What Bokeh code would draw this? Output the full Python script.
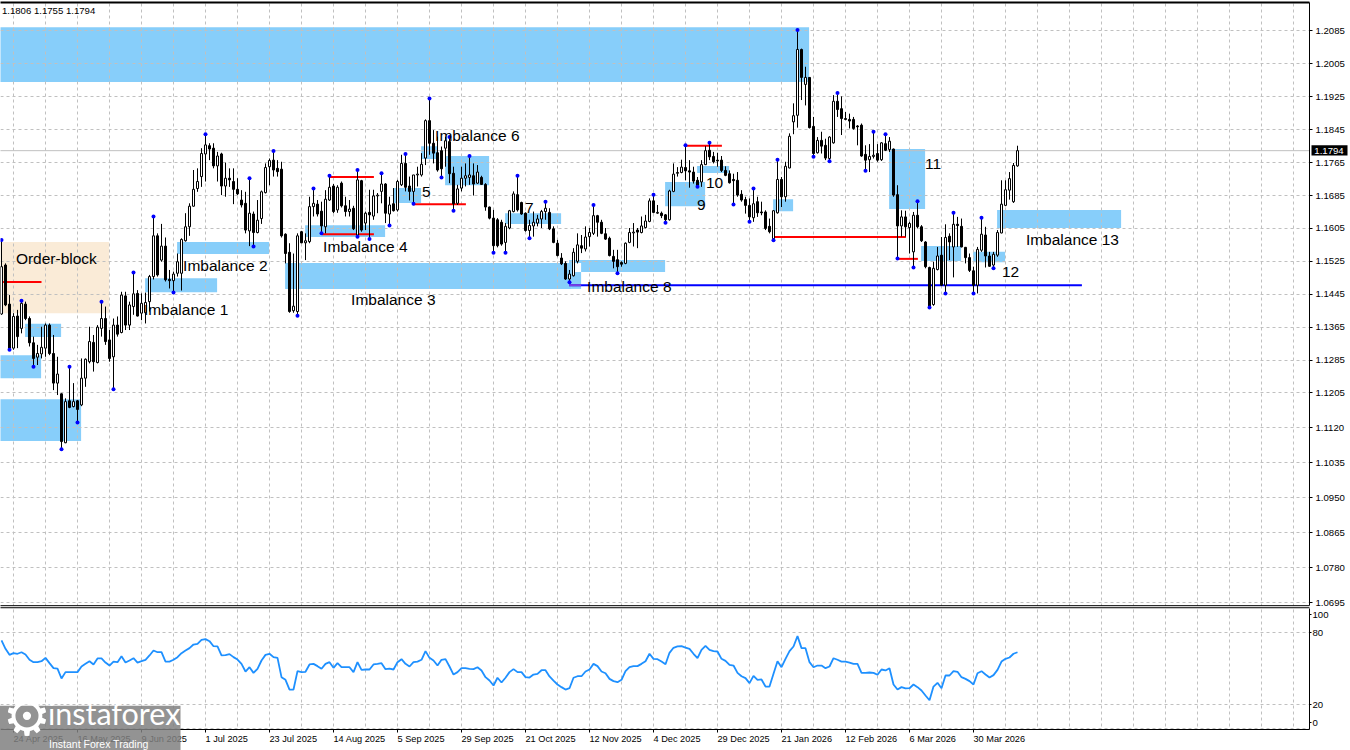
import numpy as np
from bokeh.core.properties import value
from bokeh.plotting import figure
from bokeh.models import (FixedTicker, LinearAxis, Grid, NumeralTickFormatter, Range1d)
from bokeh.embed import file_html
from bokeh.resources import INLINE

# prices are written in 1/10000 units
opens = [11397,11516,11421,11314,11392,11362,11421,11386,11327,11292,
11300,11314,11370,11301,11229,11203,11084,11186,11172,11186,
11176,11241,11281,11328,11279,11362,11386,11334,11293,11370,
11352,11441,11370,11415,11447,11399,11400,11427,11488,11587,
11528,11562,11481,11478,11496,11496,11575,11609,11659,11702,
11731,11786,11806,11800,11757,11786,11708,11727,11719,11700,
11674,11666,11599,11640,11595,11629,11692,11755,11771,11751,
11749,11591,11547,11405,11403,11597,11570,11573,11658,11664,
11647,11609,11674,11708,11650,11715,11660,11646,11654,11589,
11721,11618,11644,11635,11684,11695,11713,11640,11665,11650,
11711,11763,11708,11695,11735,11735,11776,11867,11812,11789,
11794,11800,11816,11739,11666,11703,11727,11729,11733,11715,
11729,11712,11657,11630,11626,11620,11571,11606,11646,11687,
11668,11642,11600,11611,11618,11628,11646,11644,11604,11569,
11533,11520,11482,11490,11525,11563,11555,11585,11593,11636,
11620,11592,11581,11537,11529,11522,11520,11571,11594,11601,
11595,11607,11622,11672,11642,11642,11638,11626,11695,11739,
11741,11753,11745,11742,11722,11718,11760,11795,11780,11771,
11771,11746,11738,11724,11722,11688,11675,11661,11631,11670,
11645,11645,11610,11580,11643,11724,11682,11752,11864,11880,
12040,11955,11972,11853,11789,11819,11807,11775,11813,11914,
11896,11872,11870,11870,11854,11856,11785,11772,11780,11787,
11772,11811,11797,11798,11687,11611,11633,11607,11548,11637,
11609,11572,11510,11420,11505,11540,11467,11586,11560,11615,
11610,11559,11534,11502,11467,11552,11589,11538,11516,11540,
11594,11661,11698,11670,11757]
highs = [11577,11520,11443,11399,11407,11429,11427,11391,11342,11322,
11366,11374,11374,11346,11293,11204,11192,11269,11229,11188,
11289,11289,11366,11346,11370,11427,11415,11358,11386,11391,
11451,11451,11427,11498,11455,11447,11449,11492,11634,11593,
11616,11583,11504,11500,11544,11581,11642,11666,11747,11751,
11800,11834,11812,11812,11791,11789,11765,11751,11751,11727,
11698,11694,11727,11646,11674,11697,11763,11775,11793,11771,
11767,11593,11569,11544,11593,11599,11593,11682,11702,11674,
11670,11698,11733,11713,11710,11719,11682,11674,11660,11747,
11723,11646,11699,11699,11691,11739,11715,11682,11703,11723,
11784,11786,11731,11735,11755,11788,11870,11921,11844,11828,
11804,11828,11827,11755,11711,11755,11763,11781,11763,11759,
11733,11715,11658,11650,11630,11626,11618,11650,11695,11733,
11670,11644,11626,11646,11638,11650,11670,11654,11610,11577,
11545,11525,11504,11557,11593,11589,11610,11606,11662,11638,
11626,11606,11585,11553,11553,11525,11571,11606,11618,11606,
11634,11638,11678,11687,11662,11646,11640,11699,11763,11754,
11772,11807,11771,11755,11730,11771,11805,11813,11791,11789,
11781,11756,11746,11738,11742,11698,11682,11678,11702,11682,
11670,11649,11629,11649,11772,11730,11767,11836,11909,12087,
12042,11998,11973,11876,11827,11840,11823,11829,11929,11934,
11926,11888,11884,11876,11856,11860,11807,11810,11840,11810,
11815,11834,11827,11799,11710,11649,11648,11621,11645,11671,
11613,11574,11512,11524,11560,11584,11615,11593,11643,11633,
11629,11560,11544,11512,11560,11631,11609,11548,11548,11601,
11722,11722,11742,11764,11806]
lows = [11395,11416,11310,11310,11314,11350,11382,11318,11269,11273,
11289,11293,11297,11212,11200,11068,11083,11168,11170,11133,
11173,11220,11277,11257,11277,11342,11322,11281,11214,11342,
11350,11358,11358,11395,11391,11382,11374,11403,11481,11488,
11524,11476,11459,11449,11488,11454,11573,11587,11658,11694,
11706,11719,11771,11751,11719,11686,11682,11706,11664,11686,
11656,11593,11562,11561,11593,11616,11690,11710,11731,11731,
11583,11520,11400,11400,11393,11569,11528,11569,11634,11634,
11593,11593,11672,11642,11643,11656,11634,11634,11601,11585,
11597,11601,11579,11626,11642,11666,11618,11612,11646,11646,
11708,11695,11673,11665,11707,11731,11759,11784,11763,11743,
11729,11755,11715,11648,11662,11695,11707,11711,11685,11713,
11711,11648,11627,11546,11559,11563,11546,11603,11644,11646,
11638,11597,11581,11585,11610,11606,11626,11601,11569,11537,
11516,11480,11474,11488,11520,11545,11549,11561,11589,11585,
11591,11577,11537,11508,11496,11512,11518,11569,11561,11557,
11593,11605,11620,11642,11640,11630,11619,11624,11693,11731,
11739,11722,11704,11714,11706,11706,11759,11771,11763,11755,
11742,11732,11714,11663,11682,11670,11641,11621,11621,11633,
11637,11601,11593,11576,11641,11657,11670,11751,11834,11850,
11917,11904,11848,11779,11787,11787,11771,11768,11811,11876,
11832,11868,11848,11845,11807,11779,11745,11742,11775,11767,
11769,11793,11791,11682,11532,11585,11585,11544,11510,11605,
11572,11508,11413,11417,11503,11465,11447,11528,11486,11560,
11559,11520,11499,11447,11447,11548,11510,11512,11508,11536,
11593,11659,11675,11667,11755]
closes = [11512,11419,11314,11391,11342,11423,11386,11327,11289,11301,
11316,11370,11301,11229,11251,11087,11184,11170,11184,11165,
11241,11287,11330,11281,11365,11386,11330,11289,11370,11348,
11443,11370,11419,11446,11392,11423,11425,11488,11587,11492,
11562,11480,11478,11494,11524,11578,11609,11659,11700,11719,
11787,11808,11798,11757,11781,11708,11727,11723,11700,11689,
11662,11601,11642,11595,11625,11694,11753,11770,11747,11743,
11587,11544,11403,11416,11587,11570,11575,11658,11666,11640,
11611,11676,11705,11646,11705,11660,11646,11652,11604,11723,
11601,11642,11638,11684,11686,11713,11642,11662,11648,11719,
11763,11705,11695,11735,11737,11761,11867,11812,11788,11747,
11750,11818,11738,11665,11701,11727,11733,11735,11713,11742,
11712,11657,11630,11563,11563,11567,11610,11648,11689,11650,
11640,11600,11612,11620,11628,11646,11654,11604,11571,11539,
11519,11482,11494,11547,11565,11557,11584,11595,11636,11620,
11593,11579,11539,11525,11512,11518,11569,11595,11596,11596,
11611,11623,11672,11644,11644,11636,11626,11696,11737,11741,
11754,11745,11742,11720,11708,11760,11794,11779,11767,11769,
11746,11734,11716,11721,11686,11674,11661,11633,11665,11643,
11643,11605,11597,11648,11724,11682,11756,11829,11879,12040,
11972,11972,11850,11787,11819,11805,11776,11827,11914,11894,
11872,11870,11866,11848,11852,11781,11771,11780,11783,11771,
11813,11795,11817,11686,11611,11633,11609,11617,11637,11609,
11575,11512,11414,11508,11538,11467,11583,11572,11615,11612,
11560,11534,11503,11467,11554,11591,11538,11513,11542,11595,
11664,11699,11726,11758,11794]
fractal_up = [0,5,17,25,33,38,51,62,68,78,82,89,95,101,107,112,117,129,136,148,163,171,177,188,194,199,209,218,221,229,238,245]
fractal_down = [2,8,15,19,28,43,63,74,80,89,92,97,103,110,113,123,126,132,142,154,166,174,183,187,193,203,207,216,224,228,232,236,243,248]

rsi = [73.6,66.6,61.6,63,62.5,63.8,61.9,57.5,55.5,55.5,
56.3,59.1,54.7,50.5,50.2,41.9,47.2,47.2,47.2,47.2,
51.9,54.1,56.3,53.6,58.6,58.6,55.2,52.7,56,55.5,
60.5,55.2,56.9,58.8,55.2,56.3,57.5,61.1,65.2,63.8,
63.8,56,56,57.5,59.7,63,65.2,67.2,70.2,70.8,
74.1,74.7,73,68.8,68.6,61.1,61.3,62.2,59.7,57.7,
54.1,47.7,51.3,46.6,50,56.9,61.6,62.5,59.7,59.1,
43,40.8,32.7,32.7,48,47.2,47.5,53.6,54.1,52.2,
50,54.1,55.5,50.8,54.7,51.3,51.3,51.3,47.2,55.5,
49.1,49.4,49.4,53.6,54.1,54.7,49.7,50.2,49.4,55.5,
58,54.1,51.9,55.5,56,57.5,64.7,59.1,56.9,52.7,
57.5,58,51.9,45.2,47.2,50.5,50.5,50,49.7,51.3,
48.6,43,40.2,36.1,42.5,38.6,42.5,47.2,49.7,47.2,
47.2,43,42.7,45.2,45.8,48.8,48.8,43.6,40.2,36.9,
34.7,32.7,33.8,42.5,43.8,43.8,47.7,49.4,54.1,52.2,
47.7,46.3,41.6,39.7,38.8,40.8,48,51.3,52.2,52.2,
54.1,56.3,62.5,58.3,58,56,53.8,63.3,67.5,68.6,
68.8,67.7,66.6,62.5,58.8,65.8,69.1,65.8,64.7,64.4,
58.3,56.6,53.3,52.7,46.6,43.8,42.2,38,44.1,40.8,
41.1,35.2,35.2,45.8,56.3,51.3,58.3,64.7,68.6,77.2,
67.2,67.2,55.5,51.3,52.7,52.7,50.5,51.9,58.8,57.5,
56,56,55.2,54.1,54.1,46.6,46.6,46.9,46.6,45,
49.4,48.6,50.5,36.9,32.7,34.7,33.6,33.8,36.9,34.7,
31.9,27.7,23.8,35.2,38.3,33.8,44.4,44.4,48,47.5,
43,41.6,39.7,36.9,46.3,48,45.2,42.7,44.7,49.1,
56,58.3,59.4,62.5,63.8]

# imbalance zones: bar position and price (1/10000)
zone_left   = [-1,-1,-1,5.9,35.9,43.9,75.9,70.9,142.6,141.9,144.9,97.9,104.9,110.9,125.9,165.9,173.9,192.9,221.9,229.9,242.9,248.9]
zone_right  = [201.9,9.9,19.9,14.9,53.9,66.9,95.9,142.6,144.9,165.9,165.9,104.9,108.9,121.9,139.9,175.9,181.9,197.9,230.9,239.9,250.9,279.9]
zone_top    = [12094,11297,11190,11373,11484,11572,11613,11521,11499,11528,11521,11703,11805,11781,11642,11718,11757,11676,11798,11562,11548,11650]
zone_bottom = [11961,11241,11088,11341,11450,11543,11584,11458,11458,11521,11499,11667,11774,11710,11616,11659,11740,11647,11652,11526,11523,11606]
block_left, block_right, block_top, block_bottom = [-1], [26.9], [11572], [11399]

red_start = [0.4,80.1,81.9,102.9,170.9,192.9,223.9]
red_end   = [10,93.1,93.1,116.1,180.1,226.1,229.1]
red_price = [11475,11591,11730,11664,11806,11584,11531]
support_start, support_end, support_price = [141.9], [270.1], [11467]
overlap_start, overlap_end = [141.9], [144.9]

label_text = ["Order-block","Imbalance 1","Imbalance 2","Imbalance 3","Imbalance 4","5","Imbalance 6","7",
              "Imbalance 8","9","10","11","12","Imbalance 13"]
label_x = [3.6,35.6,45.4,87.4,80.4,105.1,108.4,130.9,146.4,173.9,176.1,230.9,250.1,256.1]
label_y = [11531,11407,11516,11433,11562,11693,11830,11655,11465,11662,11715,11761,11499,11577]

price_ticks = [1.2085,1.2005,1.1925,1.1845,1.1765,1.1685,1.1605,1.1525,1.1445,1.1365,1.1285,1.1205,
               1.1120,1.1035,1.0950,1.0865,1.0780,1.0695]
date_ticks = [3,19,35,51,67,83,99,115,131,147,163,179,195,211,227,243]
date_labels = ["24 Apr 2025","16 May 2025","9 Jun 2025","1 Jul 2025","23 Jul 2025","14 Aug 2025","5 Sep 2025",
               "29 Sep 2025","21 Oct 2025","12 Nov 2025","4 Dec 2025","29 Dec 2025","21 Jan 2026","12 Feb 2026",
               "6 Mar 2026","30 Mar 2026"]
grid_x = list(range(3, 326, 8))
last_price = 1.1794
header = "1.1806 1.1755 1.1794"

o, h, l, c = [np.array(a) / 10000 for a in (opens, highs, lows, closes)]
idx = np.arange(len(o))
up = c >= o
FONT = value("Liberation Sans")
GRID = "#C0C0C0"
SMALL = "9.6px"
AX_X = 327.0      # right axis position, in bars
X0, X1 = -0.25, 337.25
Y_TOP, Y_BOT = 1.2159, 1.0336
Y_AX = 1.0387     # bottom axis of the oscillator pane
Y_GAP_A, Y_GAP_B = 1.0688, 1.0683
Y_BORDER = 1.2154

p = figure(width=1350, height=750, output_backend="svg", toolbar_location=None,
           x_range=Range1d(X0, X1), y_range=Range1d(Y_BOT, Y_TOP),
           x_axis_location=None, y_axis_location=None,
           min_border_left=0, min_border_right=0, min_border_top=0, min_border_bottom=0,
           outline_line_color=None, background_fill_color="white")
p.extra_y_ranges = {"rsi": Range1d(-18.1, 606.9)}

p.xgrid.ticker = FixedTicker(ticks=grid_x)
p.ygrid.ticker = FixedTicker(ticks=price_ticks)
rgrid = Grid(dimension=1, ticker=FixedTicker(ticks=[80, 20, 0]), y_range_name="rsi")
p.add_layout(rgrid, "center")
for g in (p.xgrid[0], p.ygrid[0], rgrid):
    g.grid_line_color = GRID
    g.grid_line_dash = [3, 3]
    g.grid_line_width = 1

p.quad(left=block_left, right=block_right, top=np.array(block_top)/10000, bottom=np.array(block_bottom)/10000,
       fill_color="#FAEBD7", line_color=None, level="image")
p.quad(left=zone_left, right=zone_right, top=np.array(zone_top)/10000, bottom=np.array(zone_bottom)/10000,
       fill_color="#87CEFA", line_color=None, level="image")

# white margins around the two panes
p.quad(left=[AX_X, X0-1, X0-1, X0-1], right=[X1+1, X1+1, X1+1, X1+1],
       top=[Y_TOP+.01, Y_AX, Y_TOP+.01, Y_GAP_A], bottom=[Y_BOT-.01, Y_BOT-.01, Y_BORDER, Y_GAP_B],
       fill_color="white", line_color=None)

# price line and pane borders
p.segment(x0=[X0-1], x1=[AX_X], y0=[last_price], y1=[last_price], line_color="#C0C0C0", line_width=1)
p.segment(x0=[X0-1], x1=[AX_X], y0=[Y_BORDER], y1=[Y_BORDER], line_color="black", line_width=2)
p.segment(x0=[X0-1, X0-1], x1=[AX_X, AX_X], y0=[Y_GAP_A, Y_GAP_B], y1=[Y_GAP_A, Y_GAP_B], line_color="black", line_width=1)

p.segment(x0=red_start, x1=red_end, y0=np.array(red_price)/10000, y1=np.array(red_price)/10000,
          line_color="#FF0000", line_width=2)
p.segment(x0=support_start, x1=support_end, y0=np.array(support_price)/10000, y1=np.array(support_price)/10000,
          line_color="#0000FF", line_width=2)
p.segment(x0=overlap_start, x1=overlap_end, y0=np.array(support_price)/10000, y1=np.array(support_price)/10000,
          line_color="#7B3FE0", line_width=2)

p.segment(x0=idx, x1=idx, y0=l, y1=h, line_color="black", line_width=1)
p.vbar(x=idx[up], width=0.5, top=c[up], bottom=o[up], fill_color="white", line_color="black", line_width=1)
p.vbar(x=idx[~up], width=0.5, top=o[~up], bottom=c[~up], fill_color="black", line_color="black", line_width=1)
p.scatter(x=fractal_up, y=h[fractal_up], size=4, marker="circle", fill_color="#0000FF", line_color=None)
p.scatter(x=fractal_down, y=l[fractal_down], size=4, marker="circle", fill_color="#0000FF", line_color=None)

p.text(x=label_x, y=np.array(label_y)/10000, text=label_text, text_font=FONT, text_font_size="15.5px",
       text_color="black", text_baseline="middle", text_align="left")
p.text(x=[0.1], y=[1.2135], text=[header], text_font=FONT, text_font_size=SMALL, text_color="black", text_baseline="middle")

# price tag
p.quad(left=[327.5], right=[336.5], top=[1.1807], bottom=[1.1782], fill_color="black", line_color=None)
p.text(x=[328.2], y=[last_price], text=["1.1794"], text_font=FONT, text_font_size=SMALL, text_color="white", text_baseline="middle")

r_line = p.line(x=idx, y=rsi, line_color="#1E90FF", line_width=1.8, y_range_name="rsi")

# axes
pa = LinearAxis(fixed_location=AX_X, bounds=(Y_GAP_A, Y_BORDER), ticker=FixedTicker(ticks=price_ticks),
                formatter=NumeralTickFormatter(format="0.0000"))
ra = LinearAxis(fixed_location=AX_X, bounds=(-0.6, 100.5), y_range_name="rsi", ticker=FixedTicker(ticks=[95, 80, 20, 5]),
                major_label_overrides={95: "100", 80: "80", 20: "20", 5: "0"})
xa = LinearAxis(fixed_location=Y_AX, bounds=(X0-1, AX_X), ticker=FixedTicker(ticks=date_ticks),
                major_label_overrides={t: "" for t in date_ticks})
for a in (pa, ra, xa):
    a.axis_line_color = "black"; a.axis_line_width = 1
    a.major_tick_line_color = "black"; a.major_tick_in = 0; a.major_tick_out = 3
    a.minor_tick_line_color = None
    a.major_label_standoff = 3
    a.major_label_text_font = "Liberation Sans"; a.major_label_text_font_size = SMALL; a.major_label_text_color = "black"
ra.major_tick_out = 2; ra.major_label_standoff = 1
p.add_layout(pa, "right")
p.add_layout(ra, "right")
p.add_layout(xa, "below")

p.text(x=date_ticks, y=[1.0365]*len(date_ticks), text=date_labels, text_font=FONT, text_font_size="9.2px",
       text_color="black", text_baseline="middle", text_align="left", level="overlay")

# logo
p.quad(left=[X0-1], right=[44.75], top=[1.0445], bottom=[Y_BOT-.01], fill_color="#808080", fill_alpha=0.85,
       line_color=None, level="overlay")
p.text(x=[0.3], y=[1.0418], text=["\u2699"], text_font=value("DejaVu Sans"), text_font_size="54px", text_color="white",
       text_baseline="middle", level="overlay")
p.text(x=[11.6], y=[1.0428], text=["instaforex"], text_font=value("Lato"), text_font_size="30.5px", text_color="white",
       text_baseline="middle", level="overlay")
p.text(x=[11.9], y=[1.0352], text=["Instant Forex Trading"], text_font=FONT, text_font_size="10.5px", text_color="white",
       text_baseline="middle", level="overlay")

open("out.html", "w").write(file_html(p, INLINE))
